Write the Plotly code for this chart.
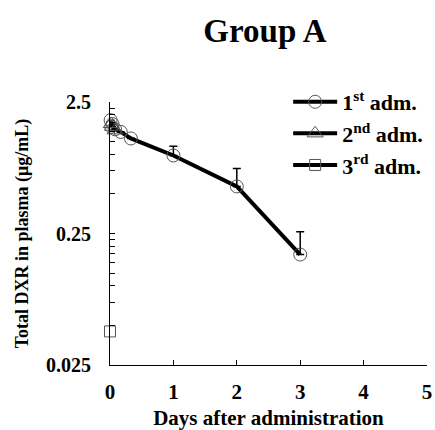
import plotly.graph_objects as go

# ---- data ----
t1 = [0.01, 0.02, 0.04, 0.08, 0.17, 0.33, 1, 2, 3]
v1 = [1.82, 1.62, 1.70, 1.55, 1.48, 1.32, 0.98, 0.57, 0.173]
e1 = [0, 0, 0, 0, 0, 0, 0.17, 0.21, 0.085]

t2 = [0.02, 0.04, 0.08]
v2 = [1.70, 1.62, 1.52]

t3 = [0.0]
v3 = [0.045]

ytick_vals = [0.025, 0.05, 0.075, 0.1, 0.125, 0.15, 0.175, 0.2, 0.225, 0.25,
              0.5, 0.75, 1.0, 1.25, 1.5, 1.75, 2.0, 2.25, 2.5]
ytick_labels = {0.025: "0.025", 0.25: "0.25", 2.5: "2.5"}
xtick_vals = [0, 1, 2, 3, 4, 5]

FONT = "Liberation Serif"

fig = go.Figure()
fig.add_trace(go.Scatter(
    x=t1, y=v1, mode="lines+markers", name="1<sup>st</sup> adm.",
    line=dict(color="black", width=4),
    marker=dict(symbol="circle-open", size=13, color="#555", line=dict(width=1)),
    error_y=dict(type="data", symmetric=False, array=e1, arrayminus=[0]*len(e1),
                 color="black", thickness=1.5, width=4),
    cliponaxis=False,
))
fig.add_trace(go.Scatter(
    x=t2, y=v2, mode="lines+markers", name="2<sup>nd</sup> adm.",
    line=dict(color="black", width=4),
    marker=dict(symbol="triangle-up-open", size=14, color="#555", line=dict(width=1)),
    cliponaxis=False,
))
fig.add_trace(go.Scatter(
    x=t3, y=v3, mode="lines+markers", name="3<sup>rd</sup> adm.",
    line=dict(color="black", width=4),
    marker=dict(symbol="square-open", size=11, color="#555", line=dict(width=1)),
    cliponaxis=False,
))

fig.update_layout(
    width=435, height=430,
    margin=dict(l=110, r=3, t=102, b=63),
    paper_bgcolor="white", plot_bgcolor="white",
    font=dict(family=FONT, color="black", size=20, weight="bold"),
    title=dict(text="Group A", x=0.609, xref="container", xanchor="center",
               y=1 - 30/430, yref="container", yanchor="middle",
               font=dict(family=FONT, size=33, weight="bold", color="black")),
    legend=dict(x=0.562, y=1.08, xanchor="left", yanchor="top",
                bgcolor="rgba(0,0,0,0)", font=dict(family=FONT, size=22, weight="bold"),
                tracegroupgap=0, itemwidth=44),
    showlegend=True,
)
fig.update_xaxes(
    range=[0, 5], tickvals=xtick_vals, ticktext=[str(v) for v in xtick_vals],
    ticks="inside", ticklen=5, tickcolor="black", showline=True, linecolor="black",
    linewidth=1, showgrid=False, zeroline=False, ticklabelstandoff=8,
    ticklabeloverflow="allow",
    tickfont=dict(family=FONT, size=21, weight="bold"),
    title=dict(text="Days after administration", standoff=8,
               font=dict(family=FONT, size=21, weight="bold")),
)
fig.update_yaxes(
    type="log", range=[-1.60206, 0.39794],
    tickvals=ytick_vals, ticktext=[ytick_labels.get(v, "") for v in ytick_vals],
    ticks="inside", ticklen=5, tickcolor="black", showline=True, linecolor="black",
    linewidth=1, showgrid=False, zeroline=False, ticklabelstandoff=14,
    ticklabeloverflow="allow",
    tickfont=dict(family=FONT, size=20, weight="bold"),
    title=dict(text="Total DXR in plasma (μg/mL)", standoff=12,
               font=dict(family=FONT, size=18, weight="bold")),
)

fig.write_html("out.html")
